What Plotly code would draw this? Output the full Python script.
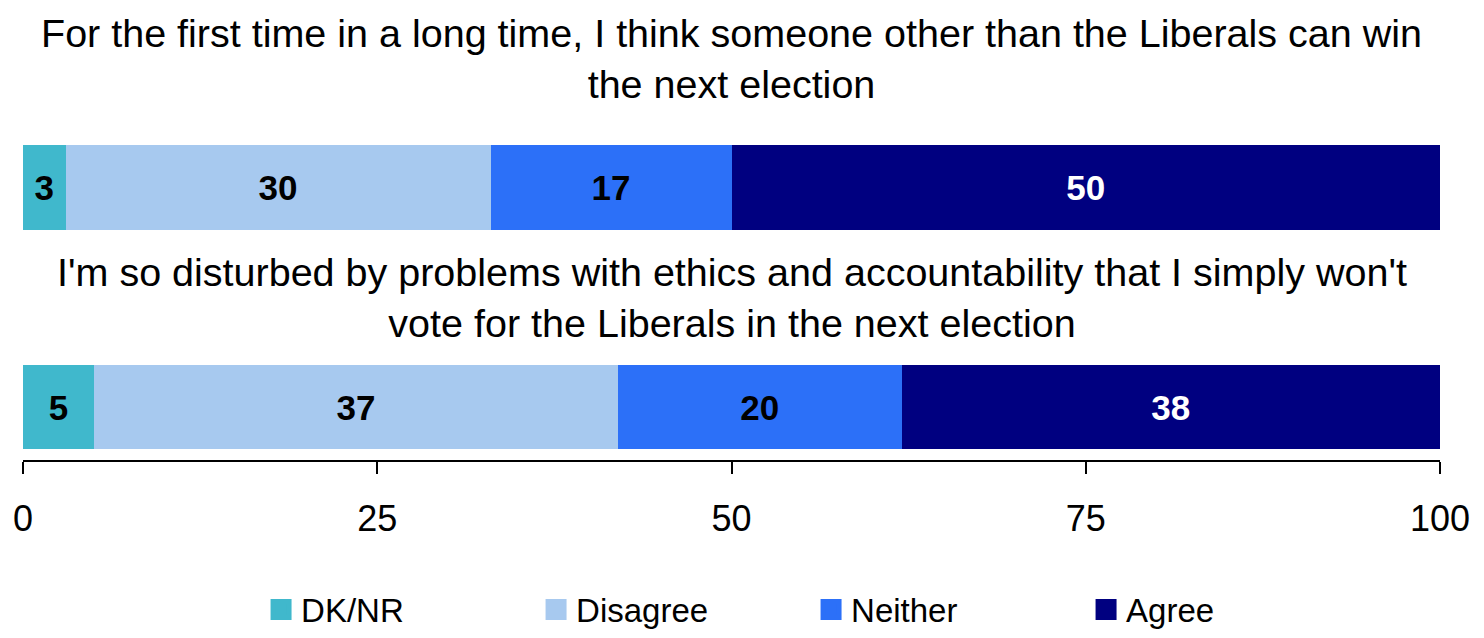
import plotly.graph_objects as go

statements = [
    "For the first time in a long time, I think someone other than the Liberals can win<br>the next election",
    "I'm so disturbed by problems with ethics and accountability that I simply won't<br>vote for the Liberals in the next election",
]
series_names = ["DK/NR", "Disagree", "Neither", "Agree"]
dk_nr = [3, 5]
disagree = [30, 37]
neither = [17, 20]
agree = [50, 38]
colors = ["#40B8CC", "#A7C9EF", "#2C70F8", "#000080"]
label_colors = ["black", "black", "black", "white"]
tick_vals = [0, 25, 50, 75, 100]

REG = "Liberation Sans, Arial, sans-serif"

cat_ids = ["s1", "s2"]
fig = go.Figure()
for name, vals, col, lc in zip(series_names, [dk_nr, disagree, neither, agree], colors, label_colors):
    fig.add_trace(go.Bar(
        y=cat_ids, x=vals, orientation="h", name=name,
        marker=dict(color=col, line=dict(width=0)),
        width=0.383,
        text=vals, texttemplate="%{text}", textposition="inside",
        insidetextanchor="middle", textangle=0, constraintext="none",
        textfont=dict(family=REG, size=35, color=lc, weight="bold"),
        showlegend=False, legendgroup=name,
    ))
    fig.add_trace(go.Scatter(
        x=[None], y=[None], mode="markers", name=name, legendgroup=name,
        marker=dict(symbol="square", size=16, color=col, line=dict(width=5, color=col)),
    ))

shifts = [129.5, 109.5]
for cid, txt, sh in zip(cat_ids, statements, shifts):
    fig.add_annotation(
        x=50, y=cid, xref="x", yref="y", text=txt, showarrow=False,
        yshift=sh, yanchor="middle", xanchor="center",
        font=dict(family=REG, size=39.5, color="black"),
    )

fig.update_layout(
    barmode="stack",
    width=1484, height=638,
    margin=dict(l=23, r=44, t=0, b=173),
    paper_bgcolor="white", plot_bgcolor="white",
    xaxis=dict(
        range=[0, 100], tickvals=tick_vals, ticks="outside", ticklen=12,
        tickwidth=2, tickcolor="black", showline=True, linecolor="black",
        linewidth=2, showgrid=False, zeroline=False,
        tickfont=dict(family=REG, size=36, color="black"),
        ticklabelstandoff=14,
    ),
    yaxis=dict(
        type="category", categoryorder="array", categoryarray=["s2", "s1"],
        range=[-0.241, 1.854], showticklabels=False, showgrid=False,
        zeroline=False, showline=False, ticks="",
    ),
    legend=dict(
        orientation="h", x=0.168, xanchor="left", y=-0.325, yanchor="middle",
        font=dict(family=REG, size=33, color="black"),
        entrywidth=230, entrywidthmode="pixels", itemsizing="trace",
        bgcolor="rgba(0,0,0,0)",
    ),
    showlegend=True,
)

fig.write_html("out.html", config={"displayModeBar": False},
               post_script="document.body.style.margin='0';")
